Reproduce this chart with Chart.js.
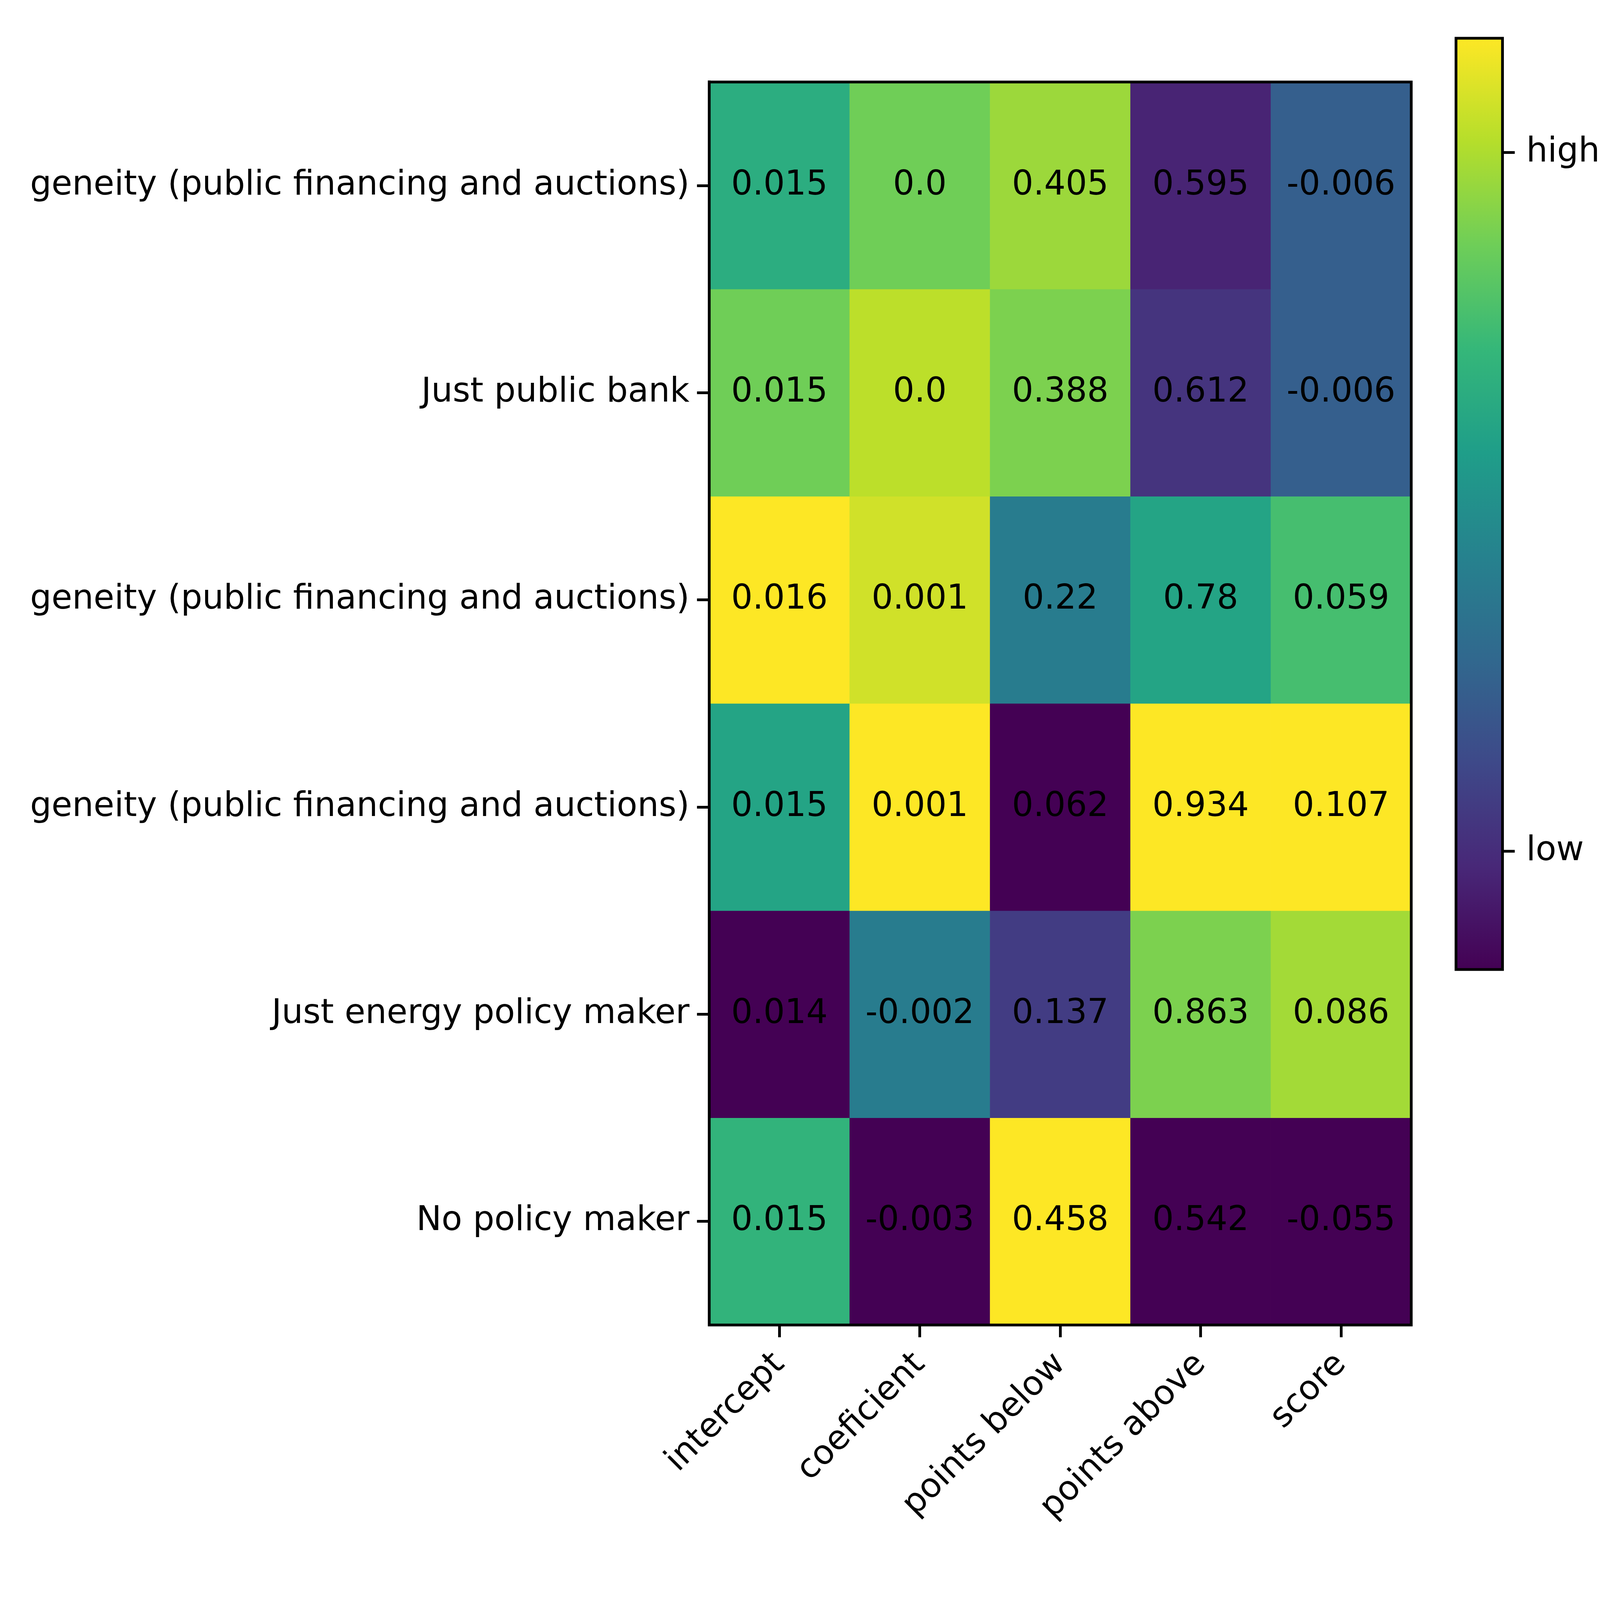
<!DOCTYPE html>
<html>
<head>
<meta charset="utf-8">
<script src="https://cdn.jsdelivr.net/npm/chart.js@4/dist/chart.umd.min.js"></script>
<style>
  html, body { margin: 0; padding: 0; background: #fff; overflow: hidden; }
  #wrap { width: 100vw; height: 100vh; }
</style>
</head>
<body>
<div id="wrap"><canvas id="heat"></canvas></div>
<script>
const columns = ['intercept', 'coeficient', 'points below', 'points above', 'score'];
const rowLabels = [
  'geneity (public financing and auctions)',
  'Just public bank',
  'geneity (public financing and auctions)',
  'geneity (public financing and auctions)',
  'Just energy policy maker',
  'No policy maker',
];
// printed values, row by row
const values = [
  ['0.015', '0.0', '0.405', '0.595', '-0.006'],
  ['0.015', '0.0', '0.388', '0.612', '-0.006'],
  ['0.016', '0.001', '0.22', '0.78', '0.059'],
  ['0.015', '0.001', '0.062', '0.934', '0.107'],
  ['0.014', '-0.002', '0.137', '0.863', '0.086'],
  ['0.015', '-0.003', '0.458', '0.542', '-0.055'],
];
// colour level (0 = low, 1 = high) read from each cell, per column
const levels = [
  [0.62, 0.78, 0.85, 0.10, 0.30],
  [0.78, 0.90, 0.80, 0.15, 0.30],
  [1.00, 0.93, 0.42, 0.58, 0.70],
  [0.58, 1.00, 0.00, 1.00, 1.00],
  [0.00, 0.42, 0.18, 0.80, 0.86],
  [0.65, 0.00, 1.00, 0.00, 0.00],
];
const cbLabels = ['high', 'low'];

const viridis = ['#440154','#482878','#3e4989','#31688e','#26828e','#1f9e89','#35b779','#6ece58','#b5de2b','#fde725'];
function hex(h) { return [1, 3, 5].map(i => parseInt(h.substr(i, 2), 16)); }
function viridisColor(t) {
  t = Math.max(0, Math.min(1, t));
  const p = t * (viridis.length - 1), i = Math.min(Math.floor(p), viridis.length - 2), f = p - i;
  const a = hex(viridis[i]), b = hex(viridis[i + 1]);
  return 'rgb(' + a.map((v, k) => Math.round(v + (b[k] - v) * f)).join(',') + ')';
}

// everything below is laid out in 6400-wide units, scaled to the window
const S = window.innerWidth / 6400;
const FONT = 'DejaVu Sans';
const FS = 135 * S;
const LW = 11 * S;
const CB = { x: 5824 * S, w: 186 * S, top: 153 * S, bottom: 3878 * S };

const cellText = {
  id: 'cellText',
  afterDatasetsDraw(chart) {
    const { ctx, scales: { x, y }, chartArea: a } = chart;
    ctx.save();
    ctx.fillStyle = '#000';
    ctx.font = FS + 'px "' + FONT + '"';
    ctx.textAlign = 'center';
    ctx.textBaseline = 'middle';
    values.forEach((row, r) => row.forEach((v, c) => {
      ctx.fillText(v, x.getPixelForValue(c), y.getPixelForValue(r + 0.5));
    }));
    ctx.strokeStyle = '#000';
    ctx.lineWidth = LW;
    ctx.strokeRect(a.left, a.top, a.right - a.left, a.bottom - a.top);
    // colour bar
    const g = ctx.createLinearGradient(0, CB.bottom, 0, CB.top);
    viridis.forEach((c, i) => g.addColorStop(i / (viridis.length - 1), c));
    ctx.fillStyle = g;
    ctx.fillRect(CB.x, CB.top, CB.w, CB.bottom - CB.top);
    ctx.strokeRect(CB.x, CB.top, CB.w, CB.bottom - CB.top);
    ctx.textAlign = 'left';
    [[cbLabels[0], 610 * S], [cbLabels[1], 3405 * S]].forEach(([t, yy]) => {
      ctx.beginPath();
      ctx.moveTo(CB.x + CB.w, yy);
      ctx.lineTo(CB.x + CB.w + 49 * S, yy);
      ctx.stroke();
      ctx.fillStyle = '#000';
      ctx.fillText(t, CB.x + CB.w + 95 * S, yy);
    });
    ctx.restore();
  }
};

const datasets = rowLabels.map((lab, r) => ({
  label: lab,
  data: columns.map(() => 1),
  backgroundColor: columns.map((_, c) => viridisColor(levels[r][c])),
  borderWidth: 0,
  categoryPercentage: 1,
  barPercentage: 1,
}));

Chart.defaults.font.family = FONT;
Chart.defaults.font.size = FS;
Chart.defaults.color = '#000';

new Chart(document.getElementById('heat'), {
  type: 'bar',
  data: { labels: columns, datasets },
  options: {
    responsive: true,
    maintainAspectRatio: false,
    animation: false,
    layout: { padding: { top: 328 * S, right: 755 * S, left: 0, bottom: 0 } },
    plugins: { legend: { display: false }, tooltip: { enabled: false } },
    scales: {
      x: {
        stacked: true,
        grid: { display: true, drawOnChartArea: false, color: '#000', lineWidth: LW, tickLength: 49 * S, offset: false },
        border: { display: true, color: '#000', width: LW },
        ticks: { minRotation: 45, maxRotation: 45, padding: 30 * S },
        afterFit(s) { s.height = 1100 * S; },
      },
      y: {
        stacked: true,
        reverse: true,
        min: 0,
        max: 6,
        grid: { display: true, drawOnChartArea: false, color: '#000', lineWidth: LW, tickLength: 49 * S },
        border: { display: true, color: '#000', width: LW },
        afterBuildTicks(s) { s.ticks = rowLabels.map((_, i) => ({ value: i + 0.5 })); },
        ticks: { padding: 30 * S, callback: v => rowLabels[Math.floor(v)] },
        afterFit(s) { s.width = 2837 * S; },
      },
    },
  },
  plugins: [cellText],
});
</script>
</body>
</html>
